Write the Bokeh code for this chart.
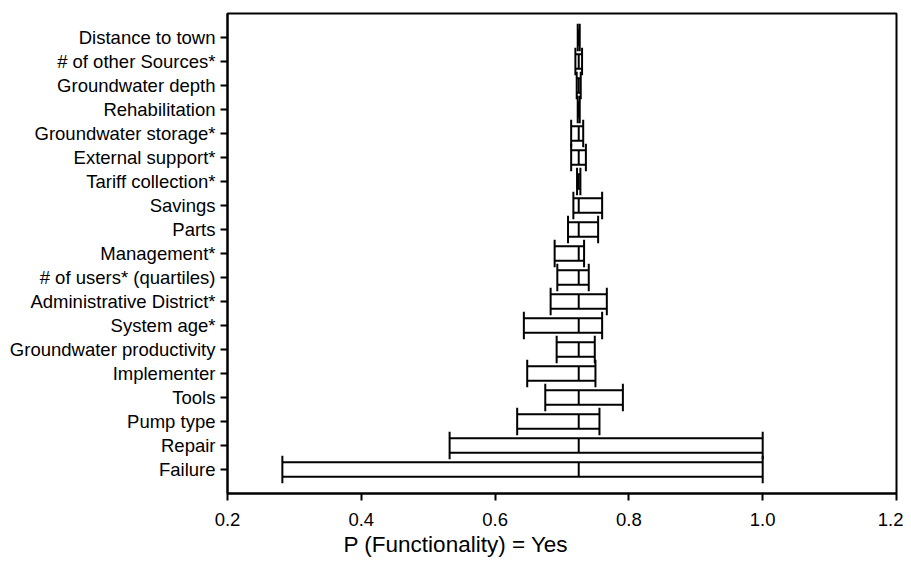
from bokeh.plotting import figure
from bokeh.models import ColumnDataSource, Range1d, FixedTicker, Title
from bokeh.embed import file_html
from bokeh.resources import INLINE

categories = ["Distance to town", "# of other Sources*", "Groundwater depth", "Rehabilitation",
              "Groundwater storage*", "External support*", "Tariff collection*", "Savings", "Parts",
              "Management*", "# of users* (quartiles)", "Administrative District*", "System age*",
              "Groundwater productivity", "Implementer", "Tools", "Pump type", "Repair", "Failure"]
low = [0.7235, 0.720, 0.722, 0.7235, 0.7137, 0.7137, 0.7225, 0.717, 0.709, 0.689, 0.693, 0.683,
       0.643, 0.692, 0.648, 0.675, 0.633, 0.532, 0.282]
high = [0.7265, 0.730, 0.728, 0.7265, 0.7317, 0.7357, 0.7275, 0.760, 0.754, 0.733, 0.740, 0.767,
        0.760, 0.749, 0.750, 0.791, 0.756, 1.000, 1.000]
baseline = 0.725
x_ticks = [0.2, 0.4, 0.6, 0.8, 1.0, 1.2]
x_label = "P (Functionality) = Yes"

n = len(categories)
ypos = [n - 1 - i for i in range(n)]
bh = 0.30   # half box height (row units)
ch = 0.57   # half cap height

src = ColumnDataSource(dict(
    y=ypos, low=low, high=high,
    base=[baseline] * n,
    yb0=[y - bh for y in ypos], yb1=[y + bh for y in ypos],
    yc0=[y - ch for y in ypos], yc1=[y + ch for y in ypos],
))

FONT = "Liberation Sans"

p = figure(width=903, height=563, output_backend="svg", toolbar_location=None,
           x_range=Range1d(0.2, 1.2), y_range=Range1d(-1, n),
           min_border_left=227, min_border_right=7, min_border_top=13, min_border_bottom=70)
p.background_fill_color = "white"
p.border_fill_color = "white"
p.outline_line_color = "black"
p.outline_line_width = 2
p.xgrid.visible = False
p.ygrid.visible = False

# box top and bottom lines
p.segment(x0="low", x1="high", y0="yb1", y1="yb1", source=src, line_color="black", line_width=2)
p.segment(x0="low", x1="high", y0="yb0", y1="yb0", source=src, line_color="black", line_width=2)
# caps
p.segment(x0="low", x1="low", y0="yc0", y1="yc1", source=src, line_color="black", line_width=2)
p.segment(x0="high", x1="high", y0="yc0", y1="yc1", source=src, line_color="black", line_width=2)
# baseline marker
p.segment(x0="base", x1="base", y0="yb0", y1="yb1", source=src, line_color="black", line_width=2)

for ax in (p.xaxis[0], p.yaxis[0]):
    ax.axis_line_width = 2
    ax.axis_line_color = "black"
    ax.major_tick_line_width = 2
    ax.major_tick_line_color = "black"
    ax.major_tick_in = 0
    ax.major_tick_out = 7
    ax.minor_tick_line_color = None
    ax.major_label_text_font = FONT
    ax.major_label_text_font_size = "18.5px"
    ax.major_label_text_color = "black"

p.xaxis.ticker = FixedTicker(ticks=x_ticks)
p.xaxis.major_label_overrides = {t: f"{t:.1f}" for t in x_ticks}
p.xaxis.major_label_standoff = 12
p.yaxis.ticker = FixedTicker(ticks=ypos)
p.yaxis.major_label_overrides = {y: c for y, c in zip(ypos, categories)}
p.yaxis.major_label_standoff = 5

p.add_layout(Title(text=x_label, text_font=FONT, text_font_size="22.5px", text_font_style="normal",
                   text_color="black", align="left", offset=116, standoff=2), "below")

open("out.html", "w").write(file_html(p, INLINE))
